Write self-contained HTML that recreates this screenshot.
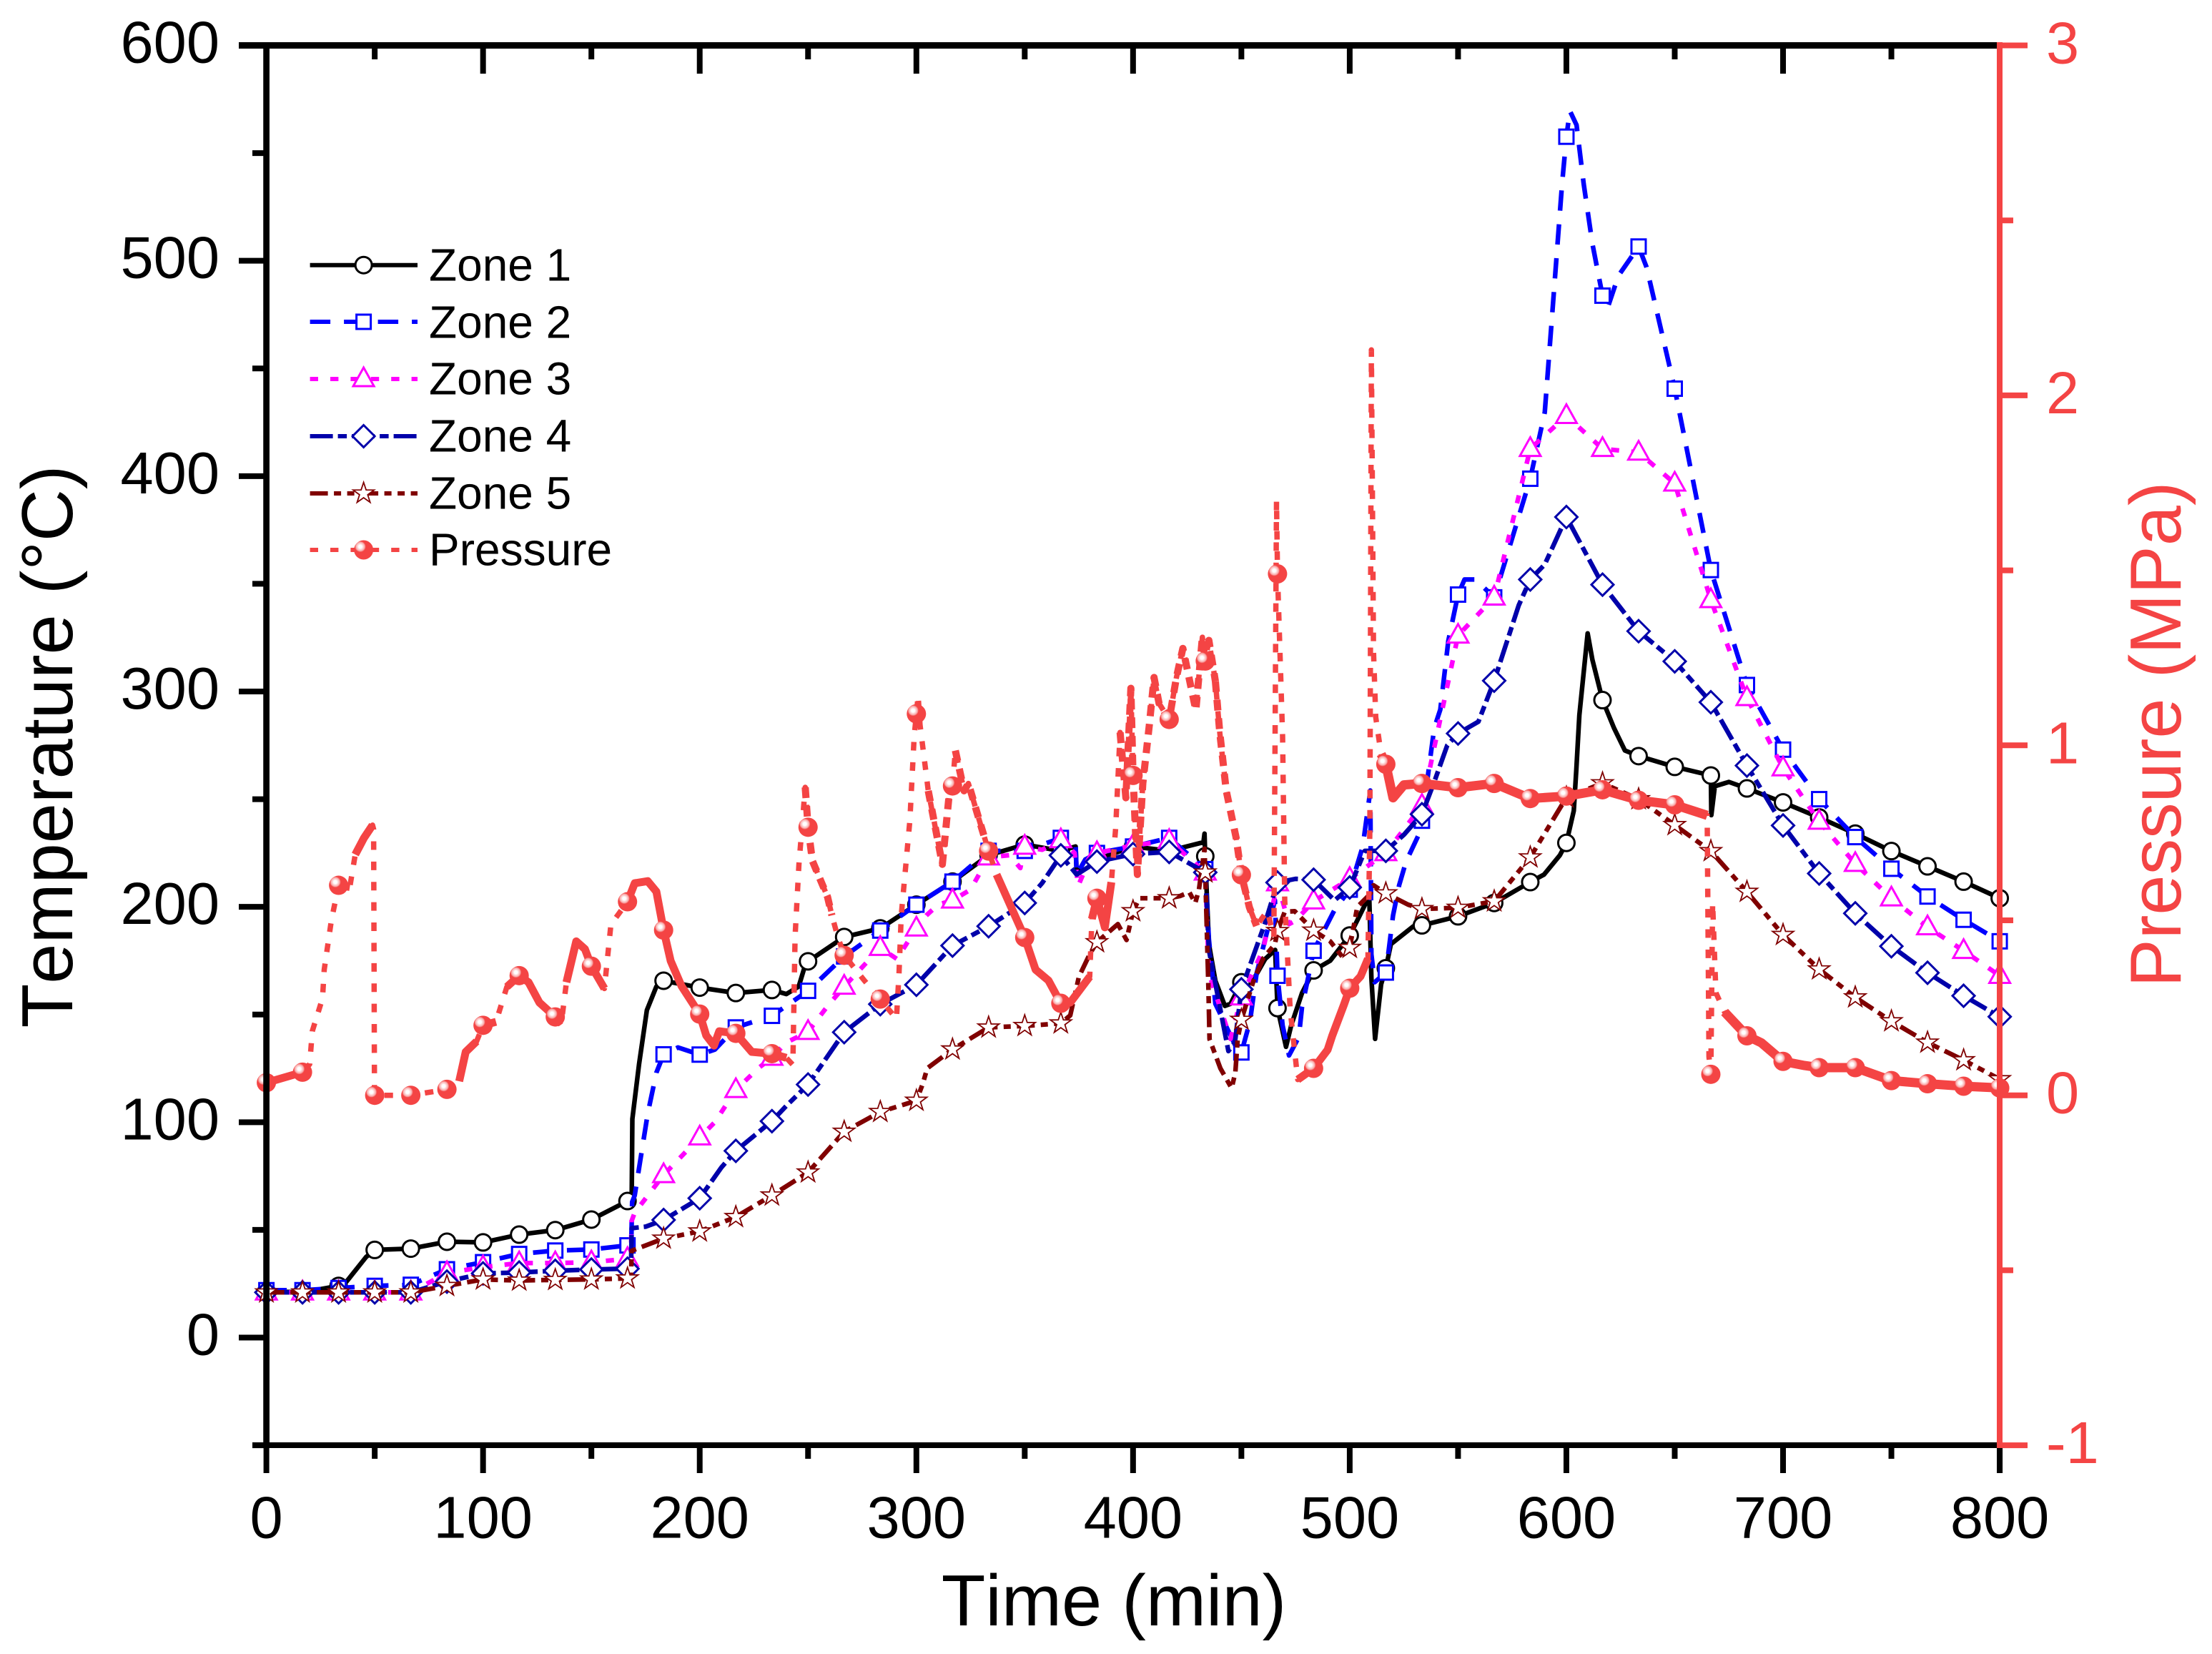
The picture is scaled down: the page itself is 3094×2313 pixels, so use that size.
<!DOCTYPE html>
<html lang="en">
<head>
<meta charset="utf-8">
<title>Temperature and pressure vs time</title>
<style>
html,body{margin:0;padding:0;background:#fff;}
svg{display:block;}
text{font-family:"Liberation Sans",Arial,sans-serif;font-kerning:none;}
</style>
</head>
<body>
<svg id="chart" xmlns="http://www.w3.org/2000/svg" width="3094" height="2313" viewBox="0 0 3094 2313">
  <defs>
    <radialGradient id="ball" cx="0.33" cy="0.33" r="0.68">
      <stop offset="0.12" stop-color="#ffffff"/>
      <stop offset="0.33" stop-color="#f9a9a9"/>
      <stop offset="0.42" stop-color="#f44444"/>
    </radialGradient>
  </defs>
  <rect x="0" y="0" width="3094" height="2313" fill="#ffffff"/>
  <g id="series-layer"></g>
  <g id="axes-layer"></g>
  <g id="legend">
    <g>
      <line x1="433.6" x2="584" y1="370.7" y2="370.7" stroke="#000000" stroke-width="6"/>
      <text x="600" y="392.5" font-size="64">Zone 1</text>
    </g>
    <g>
      <line x1="433.6" x2="584" y1="450" y2="450" stroke="#0000ff" stroke-width="6" stroke-dasharray="28.5 19"/>
      <text x="600" y="472.5" font-size="64">Zone 2</text>
    </g>
    <g>
      <line x1="433.6" x2="584" y1="530" y2="530" stroke="#ff00ff" stroke-width="6" stroke-dasharray="11.4 17"/>
      <text x="600" y="551.5" font-size="64">Zone 3</text>
    </g>
    <g>
      <line x1="433.6" x2="584" y1="610" y2="610" stroke="#0000aa" stroke-width="6" stroke-dasharray="32 7 12.5 7"/>
      <text x="600" y="631.5" font-size="64">Zone 4</text>
    </g>
    <g>
      <line x1="433.6" x2="584" y1="690" y2="690" stroke="#800000" stroke-width="6" stroke-dasharray="25 8.5 10 8.5 10 8.5"/>
      <text x="600" y="711.5" font-size="64">Zone 5</text>
    </g>
    <g>
      <line x1="433.6" x2="584" y1="769" y2="769" stroke="#f44444" stroke-width="6" stroke-dasharray="11.4 17"/>
      <text x="600" y="790.5" font-size="64">Pressure</text>
    </g>
  </g>
  <text x="1558" y="2273" font-size="101" text-anchor="middle">Time (min)</text>
  <text transform="translate(101 1044) rotate(-90)" font-size="101" text-anchor="middle">Temperature (°C)</text>
  <text transform="translate(3050 1027) rotate(-90)" font-size="101" text-anchor="middle" fill="#f44444">Pressure (MPa)</text>
</svg>
<script>
// ---------- data ----------
const xTickLabels = ["0","100","200","300","400","500","600","700","800"];
const xMinorTicks = [50,150,250,350,450,550,650,750];
const tempTickLabels = ["0","100","200","300","400","500","600"];
const tempMinorTicks = [-50,50,150,250,350,450,550];
const pressureTickLabels = ["-1","0","1","2","3"];
const pressureMinorTicks = [-0.5,0.5,1.5,2.5];

const markerTimes = [0,16.67,33.33,50,66.67,83.33,100,116.67,133.33,150,166.67,183.33,200,216.67,233.33,250,266.67,283.33,300,316.67,333.33,350,366.67,383.33,400,416.67,433.33,450,466.67,483.33,500,516.67,533.33,550,566.67,583.33,600,616.67,633.33,650,666.67,683.33,700,716.67,733.33,750,766.67,783.33,800];

const zone1Values = [21.5,21,24,40.7,41.3,44.5,44.2,47.8,49.9,54.8,63.4,165.7,162.5,160,161.4,174.7,186,190,201,211.7,224,228.9,226,222,228,226,223.5,165,153,170.5,186.7,171.5,191.4,195.6,201.8,211.5,229.7,296,270,265,261,255,248.5,241.5,234,225.9,218.8,211.7,204];
const zone1DetailTimes = [37,46,168.6,168.9,172,175.6,180,240,245.7,248.6,373.5,374,378,432.5,433,435,438,442.4,445,456,461,465.6,470.6,473,478,491,504,509,510,511.7,514.5,519,529.4,589.7,597,603.4,604.6,606,609.8,612,622,627,666.9,668.5,675];
const zone1DetailValues = [26,37.4,66,101.5,127,152,163,159.5,163,172.7,228,215,222,230,234,182.8,165.7,154,155,167,175.8,180,135,145,160,175,194.7,205,167,138.7,164,182.7,191,215,224,244.6,264,289,327,314.8,283,272.6,242.6,256,258];

const zone2Values = [22,22,23,24,24.5,31.7,35,38.8,40.4,40.9,42.8,131.5,131.4,144,149.4,161,177,189,201,211.7,226,226,232,225,228,232,217.5,132.4,168,179.6,208,169.5,240,345,343.7,398.8,557.6,483.8,506.6,440.6,356.4,303,273,250,232.4,217.7,204.8,194,184];
const zone2DetailTimes = [168.4,168.8,170,176,180,190,207,373.5,374,378,435,438,447,454,457,465.5,469,472,476.5,478,481,493,506,509.5,510,511.5,518,520,522.8,526,531.6,539,541.8,545.5,553,558,590,594,598,601.6,604.7,608,612,619,624,637];
const zone2DetailValues = [44,63,66,104,123,134.7,133.7,229,215,222,185,155,136,147,169,203,145,131,139.5,153.6,168,198.6,228,254,178,165,180,196,210,221,233,283,291.6,323.5,352,352,429.6,482.5,535.6,569.6,563,535.6,508,478,493,497];

const zone3Values = [21,21,21,21,21,30,32.7,34.6,34.6,35,36.6,75.5,93,115,130,142,163,181,190,203,223,228,231,225,228.5,230.7,216,158,211,202.6,213,225,247,326,343.7,412.7,428,412.7,411,396.6,342.5,297,264.4,239.6,220,204,190.6,179.6,168];
const zone3DetailTimes = [168.3,168.5,170,207,227,240,259,291,304.6,310,325,330,343,348,358,373,374.6,379,435,445,460,472,475];
const zone3DetailValues = [37,54,58,100,125,137,153.9,175.8,196,201,208,217,224,218,226.5,225,209.6,220,169,138.7,180,192,193.6];

const zone4Values = [21,21,21,21,21,26,29.8,30.2,31,31.6,32,54.6,64.7,86.7,100.5,117.5,141.8,154.8,163.8,182,191,201.8,223.9,221,224.5,225.5,216,161.7,211.3,212.6,209,226,243,280.5,305,352,381,349.6,328,314,295,265.6,237.8,215.5,197,181.7,169.4,158.7,149];
const zone4DetailTimes = [168.3,168.6,175,210,240,358,374,435,444,447,461,475,493,507,525,539,545,559.4,578,590];
const zone4DetailValues = [33,50.8,51.5,79,107.6,211,215,180,133,137,192.7,213,203,226,233.5,258,275,286,340,359];

const zone5Values = [21,21,21,21,21,24,27,26.5,26.8,27,27.5,46,49.3,56,66,76.7,95.6,104.8,110,133.8,144,144.7,145.9,183.6,198,204,216,147.6,188.8,189,181,206.3,199,199.6,202.6,223,250.8,257.4,250,238,225.9,207,187,171,158,146.9,137,128.8,120];
const zone5DetailTimes = [168.3,168.6,303,305,371,375,380,393,397,403,421.6,426,428.7,430.4,433,434.8,435.3,440.3,445.5,447.2,448.3,455.7,460,465.5,470,474.6,491,496.6,503.5,509.5,511,527];
const zone5DetailValues = [28,40.3,118,125,149.6,167.5,178,192,184.6,204,205,206.8,201.7,208,227,161.8,138.6,125,115.8,123,138.6,166,176,182.7,197.7,198,184,176.8,200,206,210,201];

const pressureValues = [0.036,0.066,0.6,0,0,0.017,0.2,0.342,0.224,0.369,0.553,0.472,0.232,0.177,0.119,0.766,0.4,0.275,1.09,0.884,0.698,0.451,0.263,0.563,0.914,1.074,1.241,0.63,1.49,0.077,0.306,0.946,0.891,0.879,0.891,0.848,0.855,0.873,0.843,0.83,0.06,0.17,0.097,0.079,0.079,0.042,0.033,0.026,0.021];
const pressureDetailTimes = [20,21.2,25.9,26.7,30,38.5,41,45,49,49.5,49.9,89,92,97,106,111,121,126,136,138.5,143,147,156,159,170,176,180,186.6,191.6,203,206.6,209,224,240,243,244,245.8,248.7,252,259,261,263.7,276,290.8,292,293,297,299,300.8,301.7,305.5,310,312,315,318,322,324,329.5,337,355,361,371,380,381,387,390,392,394,396.7,399,402,404.5,407.5,409.7,412,420,423,429,432,435,438,440,443,447.6,453.7,457,462,465,466.2,469,470,472.5,476,489.8,491.9,497.4,505,508.4,509.3,510,511,512,514.5,520,525,665,665.8,667.5,669,673,690,710];
const pressureDetailValues = [0.089,0.183,0.277,0.359,0.5,0.595,0.688,0.735,0.772,0.76,0,0.04,0.124,0.154,0.21,0.31,0.323,0.265,0.2,0.323,0.44,0.418,0.305,0.488,0.606,0.612,0.582,0.384,0.312,0.171,0.142,0.183,0.124,0.107,0.087,0.453,0.66,0.88,0.67,0.567,0.514,0.453,0.328,0.218,0.349,0.514,0.786,1.026,1.143,1.058,0.87,0.724,0.66,0.85,0.985,0.87,0.891,0.776,0.631,0.359,0.328,0.265,0.339,0.504,0.48,0.609,0.766,1.037,0.85,1.163,0.631,0.891,1.058,1.194,1.12,1.194,1.277,1.1,1.309,1.3,1.183,1.037,0.87,0.735,0.537,0.484,0.527,0.453,1.7,1.026,0.557,0.245,0.045,0.13,0.17,0.26,0.34,0.39,0.766,2.13,1.267,1.08,0.975,0.85,0.887,0.8,0.11,0.55,0.293,0.238,0.15,0.085];
const pressureNoisyStarts = [0,33.33,41,89,100,111,138.5,162,337,381,476,514.5,671];
const pressureNoisyEnds = [18,38.5,49,97,106,133.33,156,240,380,390,508.4,665,800];
const pressureBrokenStarts = [246,303,318,394,438];
const pressureBrokenEnds = [263,315,333.33,438,457];

// ---------- axis functions ----------
const xScale = t => 372.6 + 3.0306 * t;
const tempScale = v => 1870.5 - 3.0117 * v;
const pressureScale = p => 1531.7 - 489.4 * p;

const NS = "http://www.w3.org/2000/svg";
const RED = "#f44444";
function make(tag, attrs, parent){
  const el = document.createElementNS(NS, tag);
  for (const k in attrs) el.setAttribute(k, attrs[k]);
  parent.appendChild(el);
  return el;
}

function starPoints(cx, cy, ro, ri){
  const pts = [];
  for (let i = 0; i < 10; i++){
    const r = i % 2 ? ri : ro;
    const a = -Math.PI / 2 + i * Math.PI / 5;
    pts.push((cx + r * Math.cos(a)).toFixed(1) + "," + (cy + r * Math.sin(a)).toFixed(1));
  }
  return pts.join(" ");
}

function drawMarker(kind, color, cx, cy, parent){
  const base = {fill:"#ffffff", stroke:color, "stroke-width":3};
  if (kind === "circle") return make("circle", {...base, cx:cx, cy:cy, r:11.5}, parent);
  if (kind === "square") return make("rect", {...base, x:cx-10, y:cy-10, width:20, height:20}, parent);
  if (kind === "triangle") return make("polygon", {...base, points:`${cx},${cy-16} ${cx+14.5},${cy+10} ${cx-14.5},${cy+10}`}, parent);
  if (kind === "diamond") return make("polygon", {...base, points:`${cx},${cy-15.5} ${cx+15.5},${cy} ${cx},${cy+15.5} ${cx-15.5},${cy}`}, parent);
  if (kind === "star") return make("polygon", {...base, "stroke-width":1.8, points:starPoints(cx, cy, 15.5, 6)}, parent);
  return make("circle", {cx:cx, cy:cy, r:13.5, fill:"url(#ball)"}, parent);
}

function mergePoints(values, detailTimes, detailValues){
  const pts = markerTimes.map((t, i) => [t, values[i]]);
  detailTimes.forEach((t, i) => pts.push([t, detailValues[i]]));
  pts.sort((a, b) => a[0] - b[0]);
  return pts;
}

function toPath(pts, yScale){
  return pts.map(p => xScale(p[0]).toFixed(1) + "," + yScale(p[1]).toFixed(1)).join(" ");
}

const seriesLayer = document.getElementById("series-layer");

function drawSeries(slug, color, dash, kind, yScale, values, detailTimes, detailValues){
  const g = make("g", {}, seriesLayer);
  
  
  const pts = mergePoints(values, detailTimes, detailValues);
  const line = make("polyline", {points:toPath(pts, yScale), fill:"none", stroke:color, "stroke-width":slug === "pressure" ? 7.5 : 6.5, "stroke-linejoin":"round"}, g);
  if (dash) line.setAttribute("stroke-dasharray", dash);
  
  
  if (slug === "pressure"){
    pressureNoisyStarts.forEach((s, i) => {
      const seg = pts.filter(p => p[0] >= s && p[0] <= pressureNoisyEnds[i]);
      const band = make("polyline", {points:toPath(seg, yScale), fill:"none", stroke:color, "stroke-width":s > 500 ? 13 : 11, "stroke-linejoin":"round"}, g);
      
      
    });
    pressureBrokenStarts.forEach((s, i) => {
      const seg = pts.filter(p => p[0] >= s && p[0] <= pressureBrokenEnds[i]);
      const band = make("polyline", {points:toPath(seg, yScale), fill:"none", stroke:color, "stroke-width":10, "stroke-linejoin":"round", "stroke-dasharray":"15 11"}, g);
      
      
    });
  }
  markerTimes.forEach((t, i) => {
    const m = drawMarker(kind, color, xScale(t), yScale(values[i]), g);
    
    
  });
}

drawSeries("zone-1", "#000000", null, "circle", tempScale, zone1Values, zone1DetailTimes, zone1DetailValues);
drawSeries("zone-2", "#0000ff", "28.5 19", "square", tempScale, zone2Values, zone2DetailTimes, zone2DetailValues);
drawSeries("zone-3", "#ff00ff", "11.4 17", "triangle", tempScale, zone3Values, zone3DetailTimes, zone3DetailValues);
drawSeries("zone-4", "#0000aa", "32 7 12.5 7", "diamond", tempScale, zone4Values, zone4DetailTimes, zone4DetailValues);
drawSeries("zone-5", "#800000", "25 8.5 10 8.5 10 8.5", "star", tempScale, zone5Values, zone5DetailTimes, zone5DetailValues);
drawSeries("pressure", RED, "12 16.4", "ball", pressureScale, pressureValues, pressureDetailTimes, pressureDetailValues);

// ---------- axes ----------
const axes = document.getElementById("axes-layer");
const AX = {l:372.6, r:2797, t:63.5, b:2021};

function axisLine(name, x1, y1, x2, y2, color, w){
  const el = make("line", {x1:x1, y1:y1, x2:x2, y2:y2, stroke:color, "stroke-width":w}, axes);
  
  
  return el;
}
function tickText(name, x, y, str, anchor, color){
  const el = make("text", {x:x, y:y, "font-size":83, "text-anchor":anchor, fill:color}, axes);
  el.textContent = str;
  
  
  return el;
}

axisLine("x-axis-top", AX.l - 38.6, AX.t, AX.r, AX.t, "#000000", 9);
axisLine("x-axis-bottom", AX.l - 19.6, AX.b, AX.r, AX.b, "#000000", 8);
axisLine("y-axis-temperature", AX.l, AX.t, AX.l, AX.b, "#000000", 8.7);

xTickLabels.forEach(lbl => {
  const t = Number(lbl);
  axisLine("x-tick-major", xScale(t), AX.b, xScale(t), 2060, "#000000", 8);
  if (t < 800) axisLine("top-tick-major", xScale(t), AX.t, xScale(t), 103, "#000000", 8);
  tickText("x-tick-label", xScale(t), 2150.5, lbl, "middle", "#000000");
});
xMinorTicks.forEach(t => {
  axisLine("x-tick-minor", xScale(t), AX.b, xScale(t), 2040, "#000000", 8);
  axisLine("top-tick-minor", xScale(t), AX.t, xScale(t), 83, "#000000", 8);
});
tempTickLabels.forEach(lbl => {
  const v = Number(lbl);
  axisLine("y-tick-major", 334, tempScale(v), AX.l, tempScale(v), "#000000", 8);
  tickText("y-tick-label", 307, tempScale(v) + 24, lbl, "end", "#000000");
});
tempMinorTicks.forEach(v => {
  axisLine("y-tick-minor", 353, tempScale(v), AX.l, tempScale(v), "#000000", 8);
});

axisLine("y-axis-pressure", AX.r, AX.t - 4.5, AX.r, AX.b + 4, RED, 8);
pressureTickLabels.forEach(lbl => {
  const p = Number(lbl);
  axisLine("pressure-tick-major", AX.r, pressureScale(p), 2836, pressureScale(p), RED, 8);
  tickText("pressure-tick-label", 2862, pressureScale(p) + 25, lbl, "start", RED);
});
pressureMinorTicks.forEach(p => {
  axisLine("pressure-tick-minor", AX.r, pressureScale(p), 2816, pressureScale(p), RED, 8);
});
axisLine("x-tick-major-end", AX.r, AX.b + 4, AX.r, 2060, "#000000", 8);

// ---------- legend markers ----------
const legend = document.getElementById("legend");
const legendKinds = ["circle","square","triangle","diamond","star","ball"];
const legendColors = ["#000000","#0000ff","#ff00ff","#0000aa","#800000",RED];
const legendRows = [370.7,450,530,610,690,769];
legendKinds.forEach((k, i) => {
  const m = drawMarker(k, legendColors[i], 508.6, legendRows[i], legend);
  
  
});
</script>
</body>
</html>
